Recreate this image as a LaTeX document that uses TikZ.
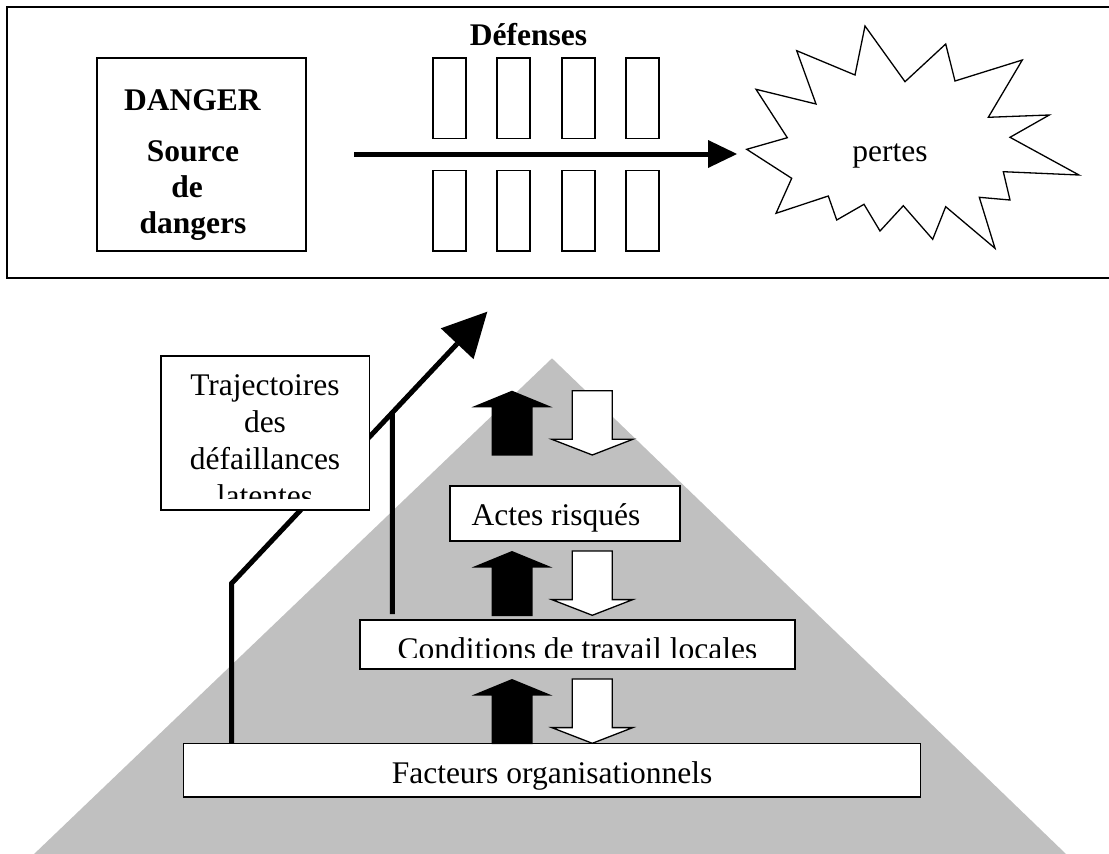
\documentclass[tikz,border=0pt]{standalone}
\usepackage{fontspec}
\setmainfont{Liberation Serif}
\usetikzlibrary{arrows.meta,calc}
\definecolor{pyramidgray}{HTML}{C0C0C0}

\begin{document}
\begin{tikzpicture}[x=1pt,y=-1pt,
  every node/.style={inner sep=0pt, outer sep=0pt},
  lbl/.style={font=\fontsize{31.5}{37}\selectfont, anchor=base},
  blbl/.style={font=\fontsize{31.5}{37}\selectfont\bfseries, anchor=base},
  box/.style={draw=black, fill=white, line width=1.6pt, rectangle, anchor=north west},
  barrier/.style={draw=black, line width=1.3pt, rectangle, anchor=north west,
                  minimum width=33pt, minimum height=80.5pt},
  thickline/.style={line width=5pt},
  upblock/.pic={\fill[black] (0,0) -- (40.5,16.6) -- (20.5,16.6) -- (20.5,65)
                -- (-20.5,65) -- (-20.5,16.6) -- (-40.5,16.6) -- cycle;},
  downblock/.pic={\filldraw[fill=white, draw=black, line width=1.3pt, line join=miter]
                (-20,0) -- (20,0) -- (20,48.6) -- (40.5,48.6) -- (0,64.3)
                -- (-40.5,48.6) -- (-20,48.6) -- cycle;},
]
\useasboundingbox (0,0) rectangle (1109,854);
\clip (0,0) rectangle (1109,854);

% ---- upper panel: hazard, defences, losses ----
\node[box, line width=1.8pt, minimum width=1120pt, minimum height=271.6pt] (frame) at (7.3,6.7) {};

\node[box, line width=1.3pt, minimum width=209pt, minimum height=193pt] (danger) at (97,58) {};
\node[blbl] (dangerT)  at (192.5,110.7) {DANGER};
\node[blbl] (srcT)     at (193,161.7)   {Source};
\node[blbl] (deT)      at (187,197.3)   {de};
\node[blbl] (dangersT) at (193,233)     {dangers};

\node[blbl] (defT) at (528.5,45) {Défenses};
\foreach \i/\x in {1/433,2/497,3/562,4/626} {
  \node[barrier] (up\i) at (\x,58) {};
  \node[barrier] (lo\i) at (\x,170.5) {};
}

\coordinate (hA) at (354,154);
\coordinate (hB) at (737,154);
\draw[thickline, -{Triangle[length=29pt,width=28pt,line width=0pt]}] (hA) -- (hB);

\draw[line width=1.3pt, line join=miter, fill=white]
  (746.7,149.3) -- (787.3,137.7) -- (756,89.3) -- (816,104) -- (796.7,50.7)
  -- (855,75) -- (865,26) -- (905,81.7) -- (945.7,44) -- (955,81)
  -- (1022.3,60) -- (988.3,117.3) -- (1049.3,115) -- (1010,137.3) -- (1079,175)
  -- (1003.3,171.7) -- (1010,200) -- (979.3,197.3) -- (995,248.3) -- (945.7,206.7)
  -- (932.7,239.3) -- (903.3,205.7) -- (880,231) -- (864,204.3) -- (836.7,220)
  -- (828.3,196) -- (776,213.3) -- (791.7,178.3) -- cycle;
\node[lbl] (pertes) at (890,161.7) {pertes};

% ---- lower panel: organisational pyramid ----
\fill[pyramidgray] (552,358.3) -- (-14,900) -- (1113.7,900) -- cycle;

% latent failure trajectories
\coordinate (tA) at (231.7,743.3);
\coordinate (tB) at (231.7,583.3);
\coordinate (tTip) at (487.3,311.7);
\coordinate (tJ) at ($(tB)!0.6283!(tTip)$);
\coordinate (tC) at (392.3,614);
\draw[thickline, -{Triangle[length=44pt,width=45pt,line width=0pt]}] (tA) -- (tB) -- (tTip);
\draw[thickline] (tC) -- (tJ);

\node[box, minimum width=208.3pt, minimum height=154.3pt] (traj) at (161,355.7) {};
\begin{scope}
  \clip (161,355.7) rectangle (369.3,498.3);
  \node[lbl] (traj1) at (265,395.7) {Trajectoires};
  \node[lbl] (traj2) at (265,432.7) {des};
  \node[lbl] (traj3) at (265,469.3) {défaillances};
  \node[lbl] (traj4) at (265,506)   {latentes};
\end{scope}

\node[box, minimum width=230pt, minimum height=55pt]   (actes)   at (450,485.7) {};
\node[box, minimum width=435pt, minimum height=49pt]   (cond)    at (360,620)   {};
\node[box, minimum width=737pt, minimum height=53.4pt] (facteurs) at (183.5,743.3) {};

\node[lbl] (actesT) at (556,525.7) {Actes risqués};
\begin{scope}
  \clip (360,620) rectangle (795,657.7);
  \node[lbl] (condT) at (577.5,659.5) {Conditions de travail locales};
\end{scope}
\node[lbl] (factT) at (552,783.5) {Facteurs organisationnels};

% influence arrows between levels
\pic (bu1) at (512,390.7) {upblock};
\pic (wd1) at (592.3,390.7) {downblock};
\pic (bu2) at (512,551) {upblock};
\pic (wd2) at (592.3,551) {downblock};
\pic (bu3) at (512,679) {upblock};
\pic (wd3) at (592.3,679) {downblock};
\end{tikzpicture}
\end{document}
